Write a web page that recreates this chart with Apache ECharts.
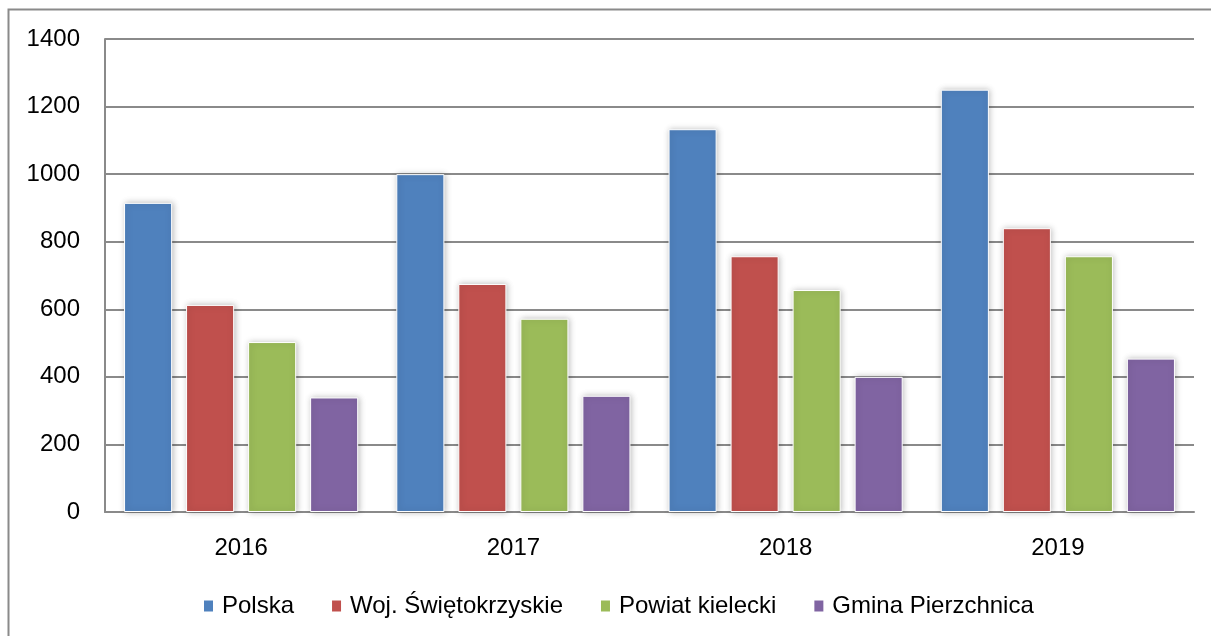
<!DOCTYPE html>
<html>
<head>
<meta charset="utf-8">
<script src="https://cdn.jsdelivr.net/npm/echarts@6/dist/echarts.min.js"></script>
<style>
  html, body { margin: 0; padding: 0; background: #fff; }
  #chart { width: 1211px; height: 636px; }
</style>
</head>
<body>
<div id="chart"></div>
<script>
var years = ['2016', '2017', '2018', '2019'];
var polska = [915, 1000, 1133, 1250];
var wojSwietokrzyskie = [613, 675, 757, 840];
var powiatKielecki = [503, 572, 657, 757];
var gminaPierzchnica = [339, 344, 400, 454];
var yTicks = [0, 200, 400, 600, 800, 1000, 1200, 1400];

var font = 'Liberation Sans';

function barSeries(name, data, color) {
    return {
        name: name,
        type: 'bar',
        data: data,
        barGap: '29%',
        barCategoryGap: '14%',
        itemStyle: {
            color: color,
            borderColor: '#fff',
            borderWidth: 1,
            shadowBlur: 6,
            shadowColor: 'rgba(0,0,0,0.25)',
            shadowOffsetX: 1
        }
    };
}

var myChart = echarts.init(document.getElementById('chart'));
var option = {
    animation: false,
    backgroundColor: '#fff',
    textStyle: { fontFamily: font },
    graphic: [{
        type: 'rect',
        shape: { x: 8.5, y: 9.5, width: 1220, height: 640 },
        style: { fill: 'none', stroke: '#8a8a8a', lineWidth: 2 },
        silent: true
    }],
    grid: { left: 105, right: 17, top: 39, bottom: 124, containLabel: false },
    legend: {
        top: 589,
        left: 197,
        itemWidth: 11,
        itemHeight: 13,
        itemGap: 36,
        icon: 'rect',
        textStyle: { fontFamily: font, fontSize: 24, color: '#000', padding: [0, 0, 0, 3] },
        data: ['Polska', 'Woj. Świętokrzyskie', 'Powiat kielecki', 'Gmina Pierzchnica']
    },
    xAxis: {
        type: 'category',
        data: years,
        axisLine: { lineStyle: { color: '#8a8a8a', width: 2 } },
        axisTick: { show: false },
        axisLabel: { color: '#000', fontSize: 24, fontFamily: font, margin: 24 }
    },
    yAxis: {
        type: 'value',
        min: yTicks[0],
        max: yTicks[yTicks.length - 1],
        interval: 200,
        axisLine: { show: true, lineStyle: { color: '#8a8a8a', width: 2 } },
        axisTick: { show: false },
        axisLabel: {
            color: '#000', fontSize: 24, fontFamily: font, margin: 25,
            formatter: function (v) { return String(v); }
        },
        splitLine: { lineStyle: { color: '#8a8a8a', width: 2 } }
    },
    series: [
        barSeries('Polska', polska, '#4F81BD'),
        barSeries('Woj. Świętokrzyskie', wojSwietokrzyskie, '#C0504D'),
        barSeries('Powiat kielecki', powiatKielecki, '#9BBB59'),
        barSeries('Gmina Pierzchnica', gminaPierzchnica, '#8064A2')
    ]
};
myChart.setOption(option);
</script>
</body>
</html>
